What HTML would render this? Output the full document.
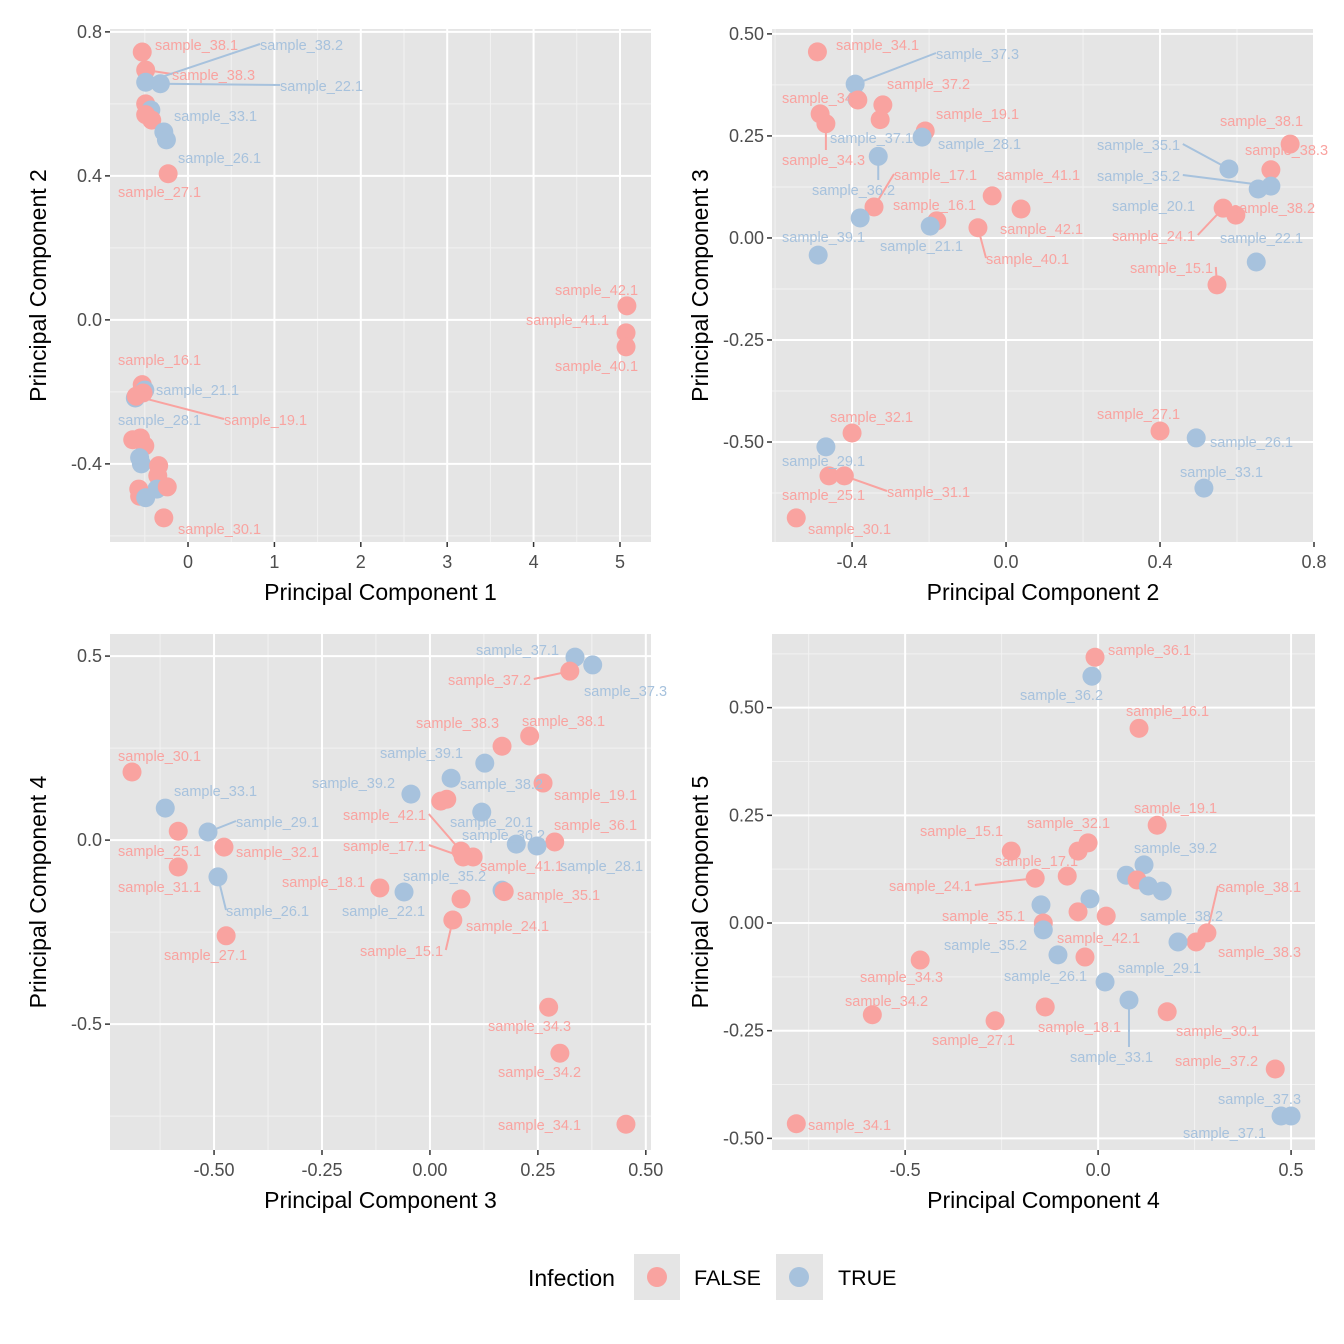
<!DOCTYPE html>
<html><head><meta charset="utf-8">
<style>
html,body{margin:0;padding:0;background:#fff;}
svg{display:block;font-family:"Liberation Sans",Arial,sans-serif;}
</style></head>
<body>
<svg id="chart" width="1344" height="1344" viewBox="0 0 1344 1344" xmlns="http://www.w3.org/2000/svg">
<g id="legend">
 <text x="528" y="1286" font-size="23" fill="#000">Infection</text>
 <rect x="634" y="1254" width="46" height="46" fill="#e5e5e5"/>
 <circle cx="657" cy="1277" r="10" fill="#F9A3A0"/>
 <text x="694" y="1285" font-size="21.5" fill="#000">FALSE</text>
 <rect x="776" y="1254" width="47" height="46" fill="#e5e5e5"/>
 <circle cx="799" cy="1277" r="10" fill="#A7C2DD"/>
 <text x="838" y="1285" font-size="21.5" fill="#000">TRUE</text>
</g>
</svg>
<script>
// ---- data (sample, infection, x, y) per panel ----
const p1Names=["sample_38.1","sample_38.3","sample_38.2","sample_22.1","s_a","sample_33.1","s_b","s_c","s_d","sample_26.1","sample_27.1","sample_42.1","sample_41.1","sample_40.1","sample_16.1","sample_21.1","s_e","sample_28.1","sample_19.1","s_f","s_g","s_h","s_i","s_j","s_k","s_l","s_m","s_n","s_o","s_p","s_q","sample_30.1"];
const p1Inf=[0,0,1,1,0,1,0,0,1,1,0,0,0,0,0,1,0,1,0,0,0,0,1,1,0,0,1,0,0,0,1,0];
const p1X=[-0.53,-0.49,-0.49,-0.32,-0.49,-0.43,-0.49,-0.42,-0.28,-0.25,-0.23,5.08,5.07,5.07,-0.53,-0.5,-0.52,-0.61,-0.60,-0.64,-0.55,-0.50,-0.56,-0.54,-0.34,-0.35,-0.36,-0.24,-0.57,-0.56,-0.49,-0.28];
const p1Y=[0.744,0.694,0.66,0.656,0.60,0.583,0.57,0.555,0.522,0.50,0.406,0.039,-0.036,-0.075,-0.18,-0.195,-0.203,-0.217,-0.212,-0.333,-0.328,-0.35,-0.383,-0.40,-0.405,-0.433,-0.47,-0.464,-0.47,-0.49,-0.494,-0.55];
const p1Lab=[[155,45],[172,75,1],[260,45,1],[280,86,1],null,[174,116],null,null,null,[178,158],[118,192],[555,290],[526,320],[555,366],[118,360],[156,390],null,[118,420],[224,420,1],null,null,null,null,null,null,null,null,null,null,null,null,[178,529]];

const p2Names=["sample_34.1","sample_37.3","s_a","s_b","sample_37.2","sample_34.2","sample_34.3","sample_37.1","sample_19.1","sample_28.1","sample_36.2","sample_17.1","s_c","sample_16.1","sample_21.1","sample_39.1","sample_40.1","sample_41.1","sample_42.1","sample_38.1","sample_38.3","sample_35.1","sample_35.2","sample_20.1","sample_24.1","sample_38.2","sample_22.1","sample_15.1","sample_32.1","sample_29.1","sample_25.1","sample_31.1","sample_30.1","sample_27.1","sample_26.1","sample_33.1"];
const p2Inf=[0,1,1,0,0,0,0,0,0,1,1,0,1,0,1,1,0,0,0,0,0,1,1,1,0,0,1,0,0,1,0,0,0,0,1,1];
const p2X=[-0.49,-0.392,-0.387,-0.385,-0.32,-0.483,-0.468,-0.327,-0.21,-0.218,-0.332,-0.343,-0.379,-0.18,-0.197,-0.488,-0.073,-0.036,0.039,0.738,0.688,0.579,0.688,0.655,0.564,0.597,0.65,0.548,-0.40,-0.468,-0.46,-0.42,-0.545,0.40,0.494,0.514];
const p2Y=[0.456,0.377,0.34,0.338,0.326,0.304,0.28,0.29,0.262,0.247,0.20,0.076,0.049,0.042,0.029,-0.042,0.025,0.103,0.071,0.23,0.167,0.169,0.127,0.12,0.073,0.056,-0.059,-0.115,-0.478,-0.512,-0.583,-0.583,-0.686,-0.473,-0.49,-0.613];
const p2Lab=[[836,45],[936,54,1],null,null,[887,84],[782,98],[782,160,1],[830,138,2],[936,114],[938,144],[812,190,1],[894,175,1],null,[893,205],[880,246],[782,237],[986,259,1],[997,175],[1000,229],[1220,121],[1245,150],[1097,145,1],[1097,176,1],[1112,206],[1112,236,1],[1232,208],[1220,238],[1130,268,1],[830,417],[782,461],[782,495],[887,492,1],[808,529],[1097,414],[1210,442],[1180,472]];

const p3Names=["sample_37.1","sample_37.3","sample_37.2","sample_38.1","sample_38.3","sample_39.1","sample_19.1","sample_38.2","sample_39.2","s_a","s_b","sample_20.1","sample_36.1","sample_28.1","sample_36.2","sample_42.1","sample_17.1","sample_41.1","sample_35.2","sample_35.1","sample_24.1","sample_15.1","sample_18.1","sample_22.1","sample_30.1","sample_33.1","sample_29.1","sample_25.1","sample_32.1","sample_31.1","sample_26.1","sample_27.1","sample_34.3","sample_34.2","sample_34.1"];
const p3Inf=[1,1,0,0,0,1,0,1,1,0,0,1,0,1,1,0,0,0,1,0,0,0,0,1,0,1,1,0,0,0,1,0,0,0,0];
const p3X=[0.336,0.377,0.324,0.231,0.167,0.127,0.262,0.049,-0.044,0.025,0.039,0.12,0.289,0.248,0.20,0.072,0.077,0.10,0.167,0.172,0.072,0.053,-0.116,-0.06,-0.69,-0.613,-0.514,-0.583,-0.477,-0.583,-0.491,-0.472,0.275,0.301,0.454];
const p3Y=[0.497,0.476,0.459,0.283,0.255,0.209,0.155,0.168,0.125,0.106,0.111,0.076,-0.005,-0.016,-0.011,-0.03,-0.046,-0.046,-0.136,-0.14,-0.16,-0.217,-0.13,-0.141,0.185,0.087,0.022,0.024,-0.019,-0.073,-0.10,-0.26,-0.454,-0.579,-0.772];
const p3Lab=[[476,650],[584,691],[448,680,1],[522,721],[416,723],[380,753],[554,795],[460,784],[312,783],null,null,[450,822],[554,825],[560,866],[462,835],[343,815,1],[343,846,1],[480,866],[403,876],[517,895],[466,926],[360,951,1],[282,882],[342,911],[118,756],[174,791],[236,822,1],[118,851],[236,852],[118,887],[226,911,1],[164,955],[488,1026],[498,1072],[498,1125]];

const p4Names=["sample_36.1","sample_36.2","sample_16.1","sample_19.1","sample_15.1","s_a","sample_32.1","sample_39.2","s_b","sample_17.1","sample_24.1","s_c","s_d","sample_38.2","sample_38.1","s_e","s_f","s_g","s_h","sample_35.1","sample_35.2","sample_42.1","sample_26.1","sample_38.3","s_i","sample_34.3","sample_29.1","sample_34.2","sample_27.1","sample_18.1","sample_33.1","sample_30.1","sample_37.2","sample_37.3","sample_37.1","sample_34.1"];
const p4Inf=[0,1,0,0,0,0,0,1,1,0,0,0,1,1,0,1,1,0,0,0,1,0,1,0,1,0,1,0,0,0,1,0,0,1,1,0];
const p4X=[-0.008,-0.016,0.106,0.153,-0.225,-0.052,-0.026,0.119,0.073,-0.08,-0.163,0.101,0.13,0.166,0.282,-0.021,-0.148,-0.052,0.021,-0.142,-0.142,-0.034,-0.104,0.254,0.207,-0.461,0.018,-0.585,-0.267,-0.137,0.08,0.179,0.459,0.474,0.50,-0.782];
const p4Y=[0.617,0.573,0.452,0.227,0.167,0.167,0.186,0.135,0.111,0.109,0.104,0.10,0.086,0.074,-0.023,0.056,0.042,0.026,0.016,0.0,-0.016,-0.079,-0.074,-0.044,-0.044,-0.086,-0.137,-0.213,-0.227,-0.195,-0.179,-0.206,-0.339,-0.448,-0.448,-0.466];
const p4Lab=[[1108,650],[1020,695],[1126,711],[1134,808],[920,831],null,[1027,823],[1134,848],null,[995,861],[889,886,1],null,null,[1140,916],[1218,887,1],null,null,null,null,[942,916],[944,945],[1057,938],[1004,976],[1218,952],null,[860,977],[1118,968],[845,1001],[932,1040],[1038,1027],[1070,1057,1],[1176,1031],[1175,1061],[1218,1099],[1183,1133],[808,1125]];

// tick labels
const p1XTicks=[0,1,2,3,4,5], p1YTicks=[-0.4,0,0.4,0.8];
const p1YTickLab=["-0.4","0.0","0.4","0.8"];
const p2XTicks=[-0.4,0,0.4,0.8], p2XTickLab=["-0.4","0.0","0.4","0.8"];
const p2YTicks=[-0.5,-0.25,0,0.25,0.5], p2YTickLab=["-0.50","-0.25","0.00","0.25","0.50"];
const p3XTicks=[-0.5,-0.25,0,0.25,0.5], p3XTickLab=["-0.50","-0.25","0.00","0.25","0.50"];
const p3YTicks=[-0.5,0,0.5], p3YTickLab=["-0.5","0.0","0.5"];
const p4XTicks=[-0.5,0,0.5], p4XTickLab=["-0.5","0.0","0.5"];
const p4YTicks=[-0.5,-0.25,0,0.25,0.5], p4YTickLab=["-0.50","-0.25","0.00","0.25","0.50"];

const NS="http://www.w3.org/2000/svg";
const svg=document.getElementById('chart');
const COL=["#F9A3A0","#A7C2DD"];
function mk(tag,attrs,parent){const e=document.createElementNS(NS,tag);for(const k in attrs)e.setAttribute(k,attrs[k]);parent.appendChild(e);return e;}

function panel(cfg){
 const g=mk('g',{},svg);
 
 
 const L=cfg.box[0],T=cfg.box[1],R=cfg.box[2],B=cfg.box[3];
 const sx=v=>L+(v-cfg.xd[0])/(cfg.xd[1]-cfg.xd[0])*(R-L);
 const sy=v=>B-(v-cfg.yd[0])/(cfg.yd[1]-cfg.yd[0])*(B-T);
 const bg=mk('rect',{x:L,y:T,width:R-L,height:B-T,fill:'#e5e5e5'},g);
 
 
 const stepX=cfg.xt[1]-cfg.xt[0], stepY=cfg.yt[1]-cfg.yt[0];
 for(let v=cfg.xt[0]-stepX/2; v<=cfg.xd[1]; v+=stepX){ if(v<cfg.xd[0])continue; const ln=mk('line',{x1:sx(v),x2:sx(v),y1:T,y2:B,stroke:'#f2f2f2','stroke-width':1},g);  }
 for(let v=cfg.yt[0]-stepY/2; v<=cfg.yd[1]; v+=stepY){ if(v<cfg.yd[0])continue; const ln=mk('line',{x1:L,x2:R,y1:sy(v),y2:sy(v),stroke:'#f2f2f2','stroke-width':1},g);  }
 cfg.xt.forEach((v,i)=>{
  const ln=mk('line',{x1:sx(v),x2:sx(v),y1:T,y2:B,stroke:'#fff','stroke-width':2},g);
   
  const tk=mk('line',{x1:sx(v),x2:sx(v),y1:B,y2:B+5,stroke:'#333','stroke-width':1.5},g);
   
  const t=mk('text',{x:sx(v),y:B+26,'font-size':18,fill:'#4d4d4d','text-anchor':'middle'},g);
  t.textContent=cfg.xl[i];
   
 });
 cfg.yt.forEach((v,i)=>{
  const ln=mk('line',{x1:L,x2:R,y1:sy(v),y2:sy(v),stroke:'#fff','stroke-width':2},g);
   
  const tk=mk('line',{x1:L-5,x2:L,y1:sy(v),y2:sy(v),stroke:'#333','stroke-width':1.5},g);
   
  const t=mk('text',{x:L-8,y:sy(v)+6,'font-size':18,fill:'#4d4d4d','text-anchor':'end'},g);
  t.textContent=cfg.yl[i];
   
 });
 const xt=mk('text',{x:(L+R)/2,y:B+58,'font-size':23,fill:'#000','text-anchor':'middle'},g);
 xt.textContent=cfg.xtitle;
  
 const cy=(T+B)/2, cx=L-64;
 const yt=mk('text',{x:cx,y:cy,'font-size':23,fill:'#000','text-anchor':'middle',transform:`rotate(-90 ${cx} ${cy})`},g);
 yt.textContent=cfg.ytitle;
  
 cfg.names.forEach((n,i)=>{
  const lab=cfg.lab[i]; if(!lab)return;
  const px=sx(cfg.x[i]), py=sy(cfg.y[i]);
  const w=n.length*7.8;
  if(lab[2]){
   let tx=Math.max(lab[0],Math.min(px,lab[0]+w)), ty=lab[1]-1;
   if(tx===px) ty = (py<ty)? lab[1]-10 : lab[1]+6;
   const s=mk('line',{x1:px,y1:py,x2:tx,y2:ty,stroke:COL[cfg.inf[i]],'stroke-width':2},g);
    
  }
 });
 cfg.names.forEach((n,i)=>{
  const c=mk('circle',{cx:sx(cfg.x[i]),cy:sy(cfg.y[i]),r:9.5,fill:COL[cfg.inf[i]]},g);
  
  
 });
 cfg.names.forEach((n,i)=>{
  const lab=cfg.lab[i]; if(!lab)return;
  const col=(lab[2]===2)?COL[1]:COL[cfg.inf[i]];
  const t=mk('text',{x:lab[0],y:lab[1]+5,'font-size':14.5,fill:col},g);
  t.textContent=n;
   
 });
}

panel({name:'panel-pc1-pc2',box:[110,29,651,542],xd:[-0.903,5.359],yd:[-0.617,0.808],xt:p1XTicks,xl:p1XTicks.map(String),yt:p1YTicks,yl:p1YTickLab,xtitle:'Principal Component 1',ytitle:'Principal Component 2',names:p1Names,inf:p1Inf,x:p1X,y:p1Y,lab:p1Lab});
panel({name:'panel-pc2-pc3',box:[772,29,1314,542],xd:[-0.608,0.8],yd:[-0.745,0.512],xt:p2XTicks,xl:p2XTickLab,yt:p2YTicks,yl:p2YTickLab,xtitle:'Principal Component 2',ytitle:'Principal Component 3',names:p2Names,inf:p2Inf,x:p2X,y:p2Y,lab:p2Lab});
panel({name:'panel-pc3-pc4',box:[110,634,651,1150],xd:[-0.741,0.512],yd:[-0.842,0.56],xt:p3XTicks,xl:p3XTickLab,yt:p3YTicks,yl:p3YTickLab,xtitle:'Principal Component 3',ytitle:'Principal Component 4',names:p3Names,inf:p3Inf,x:p3X,y:p3Y,lab:p3Lab});
panel({name:'panel-pc4-pc5',box:[772,634,1315,1150],xd:[-0.845,0.562],yd:[-0.527,0.671],xt:p4XTicks,xl:p4XTickLab,yt:p4YTicks,yl:p4YTickLab,xtitle:'Principal Component 4',ytitle:'Principal Component 5',names:p4Names,inf:p4Inf,x:p4X,y:p4Y,lab:p4Lab});
</script>
</body></html>
